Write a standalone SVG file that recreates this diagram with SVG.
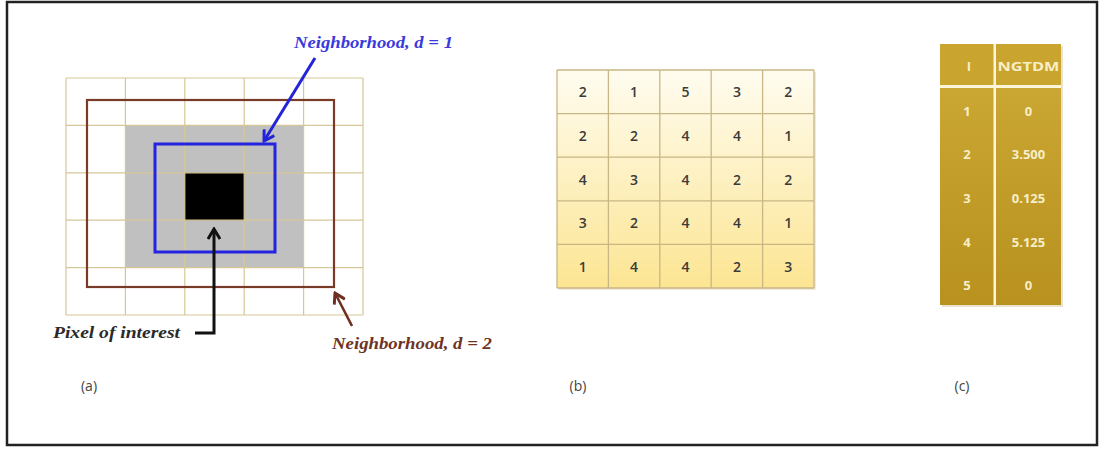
<svg xmlns="http://www.w3.org/2000/svg" width="1100" height="450" viewBox="0 0 1100 450">
<style>
.grid line{stroke:#d6c796;stroke-width:1.2}
.lbl{font-family:"Open Sans","Liberation Sans",sans-serif;font-size:14px;fill:#444;text-anchor:middle}
.num{font-family:"Open Sans","Liberation Sans",sans-serif;font-size:14px;font-weight:600;fill:#3a3a3a;text-anchor:middle;dominant-baseline:central}
.gnum{font-family:"Open Sans","Liberation Sans",sans-serif;font-size:13px;font-weight:bold;fill:#f7efc8;text-anchor:middle;dominant-baseline:central}
.math{font-family:"Liberation Serif","DejaVu Serif",serif;font-style:italic;font-weight:bold;font-size:16px}
.tb line{stroke:#c9b685;stroke-width:1.3}
</style>
<defs>
<linearGradient id="yel" x1="0" y1="70" x2="0" y2="288" gradientUnits="userSpaceOnUse">
<stop offset="0" stop-color="#fffcf0"/>
<stop offset="1" stop-color="#fce592"/>
</linearGradient>
<linearGradient id="gold" x1="0" y1="88" x2="0" y2="305" gradientUnits="userSpaceOnUse">
<stop offset="0" stop-color="#caa632"/>
<stop offset="1" stop-color="#b8911f"/>
</linearGradient>
<marker id="ahBlue" viewBox="0 0 14 14" markerWidth="14" markerHeight="14" refX="12" refY="7" orient="auto" markerUnits="userSpaceOnUse"><path d="M2,1 L12,7 L2,13" fill="none" stroke="#2323d8" stroke-width="3"/></marker>
<marker id="ahBlack" viewBox="0 0 14 14" markerWidth="14" markerHeight="14" refX="12" refY="7" orient="auto" markerUnits="userSpaceOnUse"><path d="M2,1 L12,7 L2,13" fill="none" stroke="#111" stroke-width="3"/></marker>
<marker id="ahBrown" viewBox="0 0 14 14" markerWidth="14" markerHeight="14" refX="12" refY="7" orient="auto" markerUnits="userSpaceOnUse"><path d="M2,1 L12,7 L2,13" fill="none" stroke="#6e2f20" stroke-width="3"/></marker>
</defs>
<rect width="1100" height="450" fill="#fff"/>
<rect x="7" y="2" width="1090" height="443" fill="none" stroke="#222" stroke-width="2.5"/>

<g id="panel-a">
<rect x="66" y="78" width="297" height="237" fill="#fff"/>
<rect x="125.4" y="125.4" width="178.2" height="142.2" fill="#c0c0c0"/>
<rect x="184.8" y="172.8" width="59.4" height="47.4" fill="#000"/>
<g class="grid">
<line x1="66" y1="78" x2="66" y2="315"/><line x1="125.4" y1="78" x2="125.4" y2="315"/><line x1="184.8" y1="78" x2="184.8" y2="315"/><line x1="244.2" y1="78" x2="244.2" y2="315"/><line x1="303.6" y1="78" x2="303.6" y2="315"/><line x1="363" y1="78" x2="363" y2="315"/>
<line x1="66" y1="78" x2="363" y2="78"/><line x1="66" y1="125.4" x2="363" y2="125.4"/><line x1="66" y1="172.8" x2="363" y2="172.8"/><line x1="66" y1="220.2" x2="363" y2="220.2"/><line x1="66" y1="267.6" x2="363" y2="267.6"/><line x1="66" y1="315" x2="363" y2="315"/>
</g>
</g>
<g id="neighborhood-d2"><rect x="87" y="100" width="247" height="187" fill="none" stroke="#7a3a28" stroke-width="2.2"/></g>
<g id="neighborhood-d1"><rect x="155" y="144" width="120" height="108" fill="none" stroke="#2323e0" stroke-width="3"/></g>

<g id="connectors">
<path d="M315,58 L264,141" fill="none" stroke="#2323d8" stroke-width="3" marker-end="url(#ahBlue)"/>
<path d="M195,333 H214 V229" fill="none" stroke="#111" stroke-width="3" marker-end="url(#ahBlack)"/>
<path d="M352,326 L335,293" fill="none" stroke="#6e2f20" stroke-width="2.6" marker-end="url(#ahBrown)"/>
</g>

<g id="label-d1"><text class="math" x="294" y="48" fill="#3a3adc" textLength="159" lengthAdjust="spacingAndGlyphs">Neighborhood, d = 1</text></g>
<g id="label-pixel"><text class="math" x="53" y="338" fill="#2a2a2a" textLength="127" lengthAdjust="spacingAndGlyphs">Pixel of interest</text></g>
<g id="label-d2"><text class="math" x="332" y="349" fill="#6e3324" textLength="160" lengthAdjust="spacingAndGlyphs">Neighborhood, d = 2</text></g>

<g id="panel-b">
<rect x="559" y="72" width="257" height="218" fill="#e6dcc0" opacity="0.6"/>
<rect x="557" y="70" width="257" height="218" fill="url(#yel)"/>
<g class="tb">
<line x1="557" y1="70" x2="557" y2="288"/><line x1="608.4" y1="70" x2="608.4" y2="288"/><line x1="659.8" y1="70" x2="659.8" y2="288"/><line x1="711.2" y1="70" x2="711.2" y2="288"/><line x1="762.6" y1="70" x2="762.6" y2="288"/><line x1="814" y1="70" x2="814" y2="288"/>
<line x1="557" y1="70" x2="814" y2="70"/><line x1="557" y1="113.6" x2="814" y2="113.6"/><line x1="557" y1="157.2" x2="814" y2="157.2"/><line x1="557" y1="200.8" x2="814" y2="200.8"/><line x1="557" y1="244.4" x2="814" y2="244.4"/><line x1="557" y1="288" x2="814" y2="288"/>
</g>
<g>
<text class="num" x="582.7" y="91.8">2</text><text class="num" x="634.1" y="91.8">1</text><text class="num" x="685.5" y="91.8">5</text><text class="num" x="736.9" y="91.8">3</text><text class="num" x="788.3" y="91.8">2</text>
<text class="num" x="582.7" y="135.4">2</text><text class="num" x="634.1" y="135.4">2</text><text class="num" x="685.5" y="135.4">4</text><text class="num" x="736.9" y="135.4">4</text><text class="num" x="788.3" y="135.4">1</text>
<text class="num" x="582.7" y="179">4</text><text class="num" x="634.1" y="179">3</text><text class="num" x="685.5" y="179">4</text><text class="num" x="736.9" y="179">2</text><text class="num" x="788.3" y="179">2</text>
<text class="num" x="582.7" y="222.6">3</text><text class="num" x="634.1" y="222.6">2</text><text class="num" x="685.5" y="222.6">4</text><text class="num" x="736.9" y="222.6">4</text><text class="num" x="788.3" y="222.6">1</text>
<text class="num" x="582.7" y="266.2">1</text><text class="num" x="634.1" y="266.2">4</text><text class="num" x="685.5" y="266.2">4</text><text class="num" x="736.9" y="266.2">2</text><text class="num" x="788.3" y="266.2">3</text>
</g>
</g>

<g id="panel-c">
<rect x="942" y="46" width="121" height="261" fill="#d8cfb0" opacity="0.6"/>
<rect x="940" y="44" width="121" height="41" fill="#c9a42e"/>
<rect x="940" y="88" width="121" height="217" fill="url(#gold)"/>
<rect x="940" y="85" width="121" height="3" fill="#fdf6d8"/>
<rect x="993.5" y="44" width="2.5" height="261" fill="#fdf6d8"/>
<text class="gnum" x="969" y="66">I</text>
<text class="gnum" x="1028.5" y="66" textLength="62" lengthAdjust="spacingAndGlyphs">NGTDM</text>
<text class="gnum" x="967" y="111">1</text><text class="gnum" x="1028.5" y="111">0</text>
<text class="gnum" x="967" y="154">2</text><text class="gnum" x="1028.5" y="154">3.500</text>
<text class="gnum" x="967" y="198">3</text><text class="gnum" x="1028.5" y="198">0.125</text>
<text class="gnum" x="967" y="242">4</text><text class="gnum" x="1028.5" y="242">5.125</text>
<text class="gnum" x="967" y="285">5</text><text class="gnum" x="1028.5" y="285">0</text>
</g>

<g id="captions">
<text class="lbl" x="89" y="391">(a)</text>
<text class="lbl" x="578" y="391">(b)</text>
<text class="lbl" x="962" y="391">(c)</text>
</g>
</svg>
